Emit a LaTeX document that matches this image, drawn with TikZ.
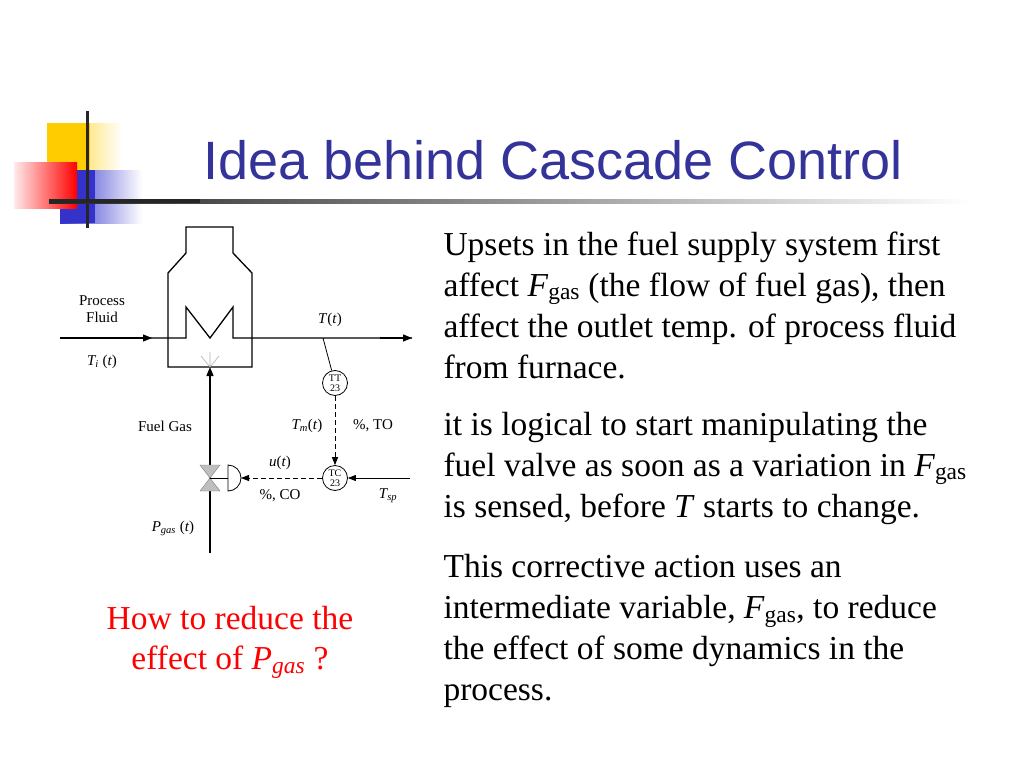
\documentclass[tikz,border=0pt]{standalone}
\usepackage{fontspec}
\setmainfont{Liberation Serif}
\newfontfamily\titlefont{Liberation Sans}
\usetikzlibrary{arrows.meta}
\definecolor{ttl}{RGB}{51,51,153}
\definecolor{lyel}{RGB}{255,204,0}
\definecolor{lblu}{RGB}{51,51,204}
\begin{document}
\begin{tikzpicture}[x=1pt,y=-1pt,
  pipe/.style={line width=1.3pt},
  sig/.style={line width=0.8pt,dashed,dash pattern=on 5pt off 3pt},
  inst/.style={circle,draw,line width=0.8pt,minimum size=25pt,inner sep=0pt,font=\fontsize{10}{10}\selectfont,align=center},
  lab/.style={font=\fontsize{15}{17}\selectfont,align=center},
  body/.style={font=\fontsize{33.5}{41}\selectfont,anchor=west,align=left},
  tip/.style={-{Triangle[length=9pt,width=7pt]}}]
\useasboundingbox (0,0) rectangle (1024,768);
\fill[white] (0,0) rectangle (1024,768);
% logo
\shade[left color=lyel,right color=white] (47,123) rectangle (122,170);
\fill[lyel] (47,123) rectangle (90,170);
\shade[left color=lblu,right color=white] (60,170) rectangle (142,223);
\fill[lblu] (60,170) rectangle (95,223);
\shade[left color=white!60!red!20,right color=red] (14,162) rectangle (77,208);
\draw[line width=3pt,black!85] (87,111) -- (87,228);
\shade[left color=black!85,right color=white] (49,199) rectangle (970,203);
\fill[black!85] (49,199) rectangle (200,203);
% title
\node[text=ttl,font=\titlefont\fontsize{54}{58}\selectfont,anchor=west] (title) at (200,160) {Idea behind Cascade Control};
% furnace
\draw[pipe] (168,367) -- (168,273) -- (186,253) -- (186,227) -- (233,227) -- (233,253) -- (252,273) -- (252,367) -- cycle;
\coordinate (pin) at (60,338);
\coordinate (pout) at (412,338);
\draw[pipe,tip] (pin) -- (152,338);
\draw[pipe] (150,338) -- (186,338) -- (186,307) -- (210,338) -- (233,307) -- (233,338) -- (pout);
\draw[pipe,tip] (380,338) -- (pout);
\draw[black!30,line width=0.6pt] (210,367) -- (210,352) (210,367) -- (201,356) (210,367) -- (219,356);
% fuel line
\coordinate (fbot) at (210,553);
\coordinate (ftop) at (210,367);
\draw[pipe,tip] (fbot) -- (ftop);
\fill[black!25,draw=black!50] (200,465) -- (220,465) -- (210,478) -- cycle (200,491) -- (220,491) -- (210,478) -- cycle;
\draw[line width=0.8pt] (210,478) -- (228,478);
\draw[line width=0.8pt,fill=white] (228,465) -- (228,491) arc[start angle=-90,end angle=90,radius=13pt] -- cycle;
\node[coordinate] (act) at (241,478) {};
% instruments
\node[inst] (tt) at (335,383) {TT\\23};
\node[inst] (tc) at (335,478) {TC\\23};
\coordinate (tap) at (323,338);
\draw[line width=0.8pt] (tap) -- (tt);
\draw[sig,-{Triangle[length=8pt,width=6pt]}] (tt) -- (tc);
\draw[sig,-{Triangle[length=8pt,width=6pt]}] (tc) -- (act);
\coordinate (tsp) at (410,478);
\draw[line width=0.8pt,-{Triangle[length=8pt,width=6pt]}] (tsp) -- (tc);
% labels
\node[lab] (lpf) at (102,309) {Process\\Fluid};
\node[lab] (lti) at (102,362) {\textit{T\textsubscript{i}} (\textit{t})};
\node[lab] (lt) at (330,320) {\textit{T}(\textit{t})};
\node[lab] (lfg) at (165,426) {Fuel Gas};
\node[lab] (ltm) at (307,426) {\textit{T\textsubscript{m}}(\textit{t})};
\node[lab] (lto) at (373,426) {\%, TO};
\node[lab] (lu) at (280,463) {\textit{u}(\textit{t})};
\node[lab] (lco) at (280,496) {\%, CO};
\node[lab] (lsp) at (388,496) {\textit{T\textsubscript{sp}}};
\node[lab] (lpg) at (173,528) {\textit{P\textsubscript{gas}} (\textit{t})};
% red question
\node[font=\fontsize{33.5}{40}\selectfont,text=red,align=center] (q) at (230,642) {How to reduce the\\effect of \textit{P}\textsubscript{\textit{gas}} ?};
% body
\node[body] (b1) at (440,305) {Upsets in the fuel supply system first\\affect \textit{F}\textsubscript{gas} (the flow of fuel gas), then\\affect the outlet temp. of process fluid\\from furnace.};
\node[body] (b2) at (440,468) {it is logical to start manipulating the\\fuel valve as soon as a variation in \textit{F}\textsubscript{gas}\\is sensed, before \textit{T} starts to change.};
\node[body] (b3) at (440,631) {This corrective action uses an\\intermediate variable, \textit{F}\textsubscript{gas}, to reduce\\the effect of some dynamics in the\\process.};
\end{tikzpicture}
\end{document}
